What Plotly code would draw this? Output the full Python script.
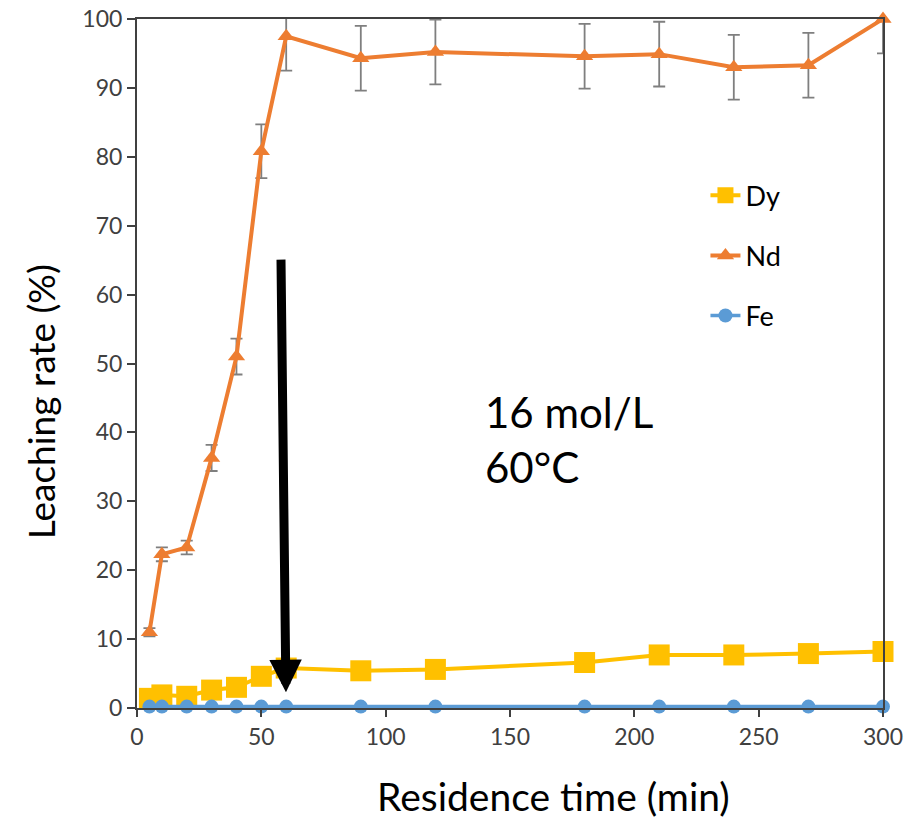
import plotly.graph_objects as go

time_min = [5, 10, 20, 30, 40, 50, 60, 90, 120, 180, 210, 240, 270, 300]
dy = [1.4, 1.9, 1.7, 2.6, 3.0, 4.6, 5.8, 5.4, 5.6, 6.6, 7.7, 7.7, 7.9, 8.2]
nd = [11.0, 22.3, 23.3, 36.3, 51.0, 80.8, 97.5, 94.3, 95.2, 94.6, 94.9, 93.0, 93.3, 100.0]
nd_err = [0.6, 1.0, 1.0, 1.9, 2.6, 3.9, 5.0, 4.7, 4.7, 4.7, 4.7, 4.7, 4.7, 5.0]
fe = [0.2, 0.2, 0.2, 0.2, 0.2, 0.2, 0.2, 0.2, 0.2, 0.2, 0.2, 0.2, 0.2, 0.2]

font_family = "Lato, 'Open Sans', sans-serif"

fig = go.Figure()
fig.add_trace(go.Scatter(
    x=time_min, y=dy, name="Dy", mode="lines+markers", legendgroup="a",
    line=dict(color="#FFC000", width=4),
    marker=dict(symbol="square", size=21, color="#FFC000"),
    cliponaxis=False,
))
fig.add_trace(go.Scatter(
    x=time_min, y=nd, name="Nd", mode="lines+markers", legendgroup="b",
    line=dict(color="#ED7D31", width=4),
    marker=dict(symbol="triangle-up", size=15, color="#ED7D31"),
    error_y=dict(type="data", array=nd_err, visible=True, color="#7F7F7F", thickness=1.8, width=6),
    cliponaxis=False,
))
fig.add_trace(go.Scatter(
    x=time_min, y=fe, name="Fe", mode="lines+markers", legendgroup="c",
    line=dict(color="#5B9BD5", width=3.5),
    marker=dict(symbol="circle", size=14, color="#5B9BD5"),
    cliponaxis=False,
))

fig.add_annotation(
    x=59.9, y=2.3, ax=57.9, ay=65.3, xref="x", yref="y", axref="x", ayref="y",
    text="", showarrow=True, arrowhead=2, arrowsize=0.72, arrowwidth=9, arrowcolor="#000000",
)
fig.add_annotation(
    x=139, y=39.0, xref="x", yref="y", xanchor="left", yanchor="middle",
    text="16 mol/L<br>60°C", showarrow=False, align="left",
    font=dict(size=42, color="#000000", family=font_family),
)
fig.add_annotation(
    x=-0.129, y=0.445, xref="paper", yref="paper", xanchor="center", yanchor="middle",
    text="Leaching rate (%)", textangle=-90, showarrow=False,
    font=dict(size=37, color="#000000", family=font_family),
)
fig.add_annotation(
    x=0.558, y=-0.127, xref="paper", yref="paper", xanchor="center", yanchor="middle",
    text="Residence time (min)", showarrow=False,
    font=dict(size=39, color="#000000", family=font_family),
)

fig.update_layout(
    width=907, height=819,
    margin=dict(l=137, r=24, t=19, b=111, autoexpand=False),
    paper_bgcolor="white", plot_bgcolor="white",
    font=dict(family=font_family, color="#404040"),
    showlegend=True,
    legend=dict(
        x=0.762, y=0.779, xanchor="left", yanchor="top",
        font=dict(size=27, color="#000000"),
        bgcolor="rgba(0,0,0,0)", tracegroupgap=22,
        itemsizing="trace",
    ),
    xaxis=dict(
        range=[0, 300], tickvals=[0, 50, 100, 150, 200, 250, 300], automargin=False,
        showgrid=False, zeroline=False, showline=True, linecolor="#404040", linewidth=2,
        mirror=True, ticks="outside", ticklen=7, tickwidth=2, tickcolor="#404040",
        tickfont=dict(size=23, color="#404040"),
    ),
    yaxis=dict(
        range=[0, 100], tickvals=[0, 10, 20, 30, 40, 50, 60, 70, 80, 90, 100], automargin=False,
        showgrid=False, zeroline=False, showline=True, linecolor="#404040", linewidth=2,
        mirror=True, ticks="outside", ticklen=8, tickwidth=2, tickcolor="#404040",
        tickfont=dict(size=23, color="#404040"),
    ),
)

fig.write_html("out.html")
